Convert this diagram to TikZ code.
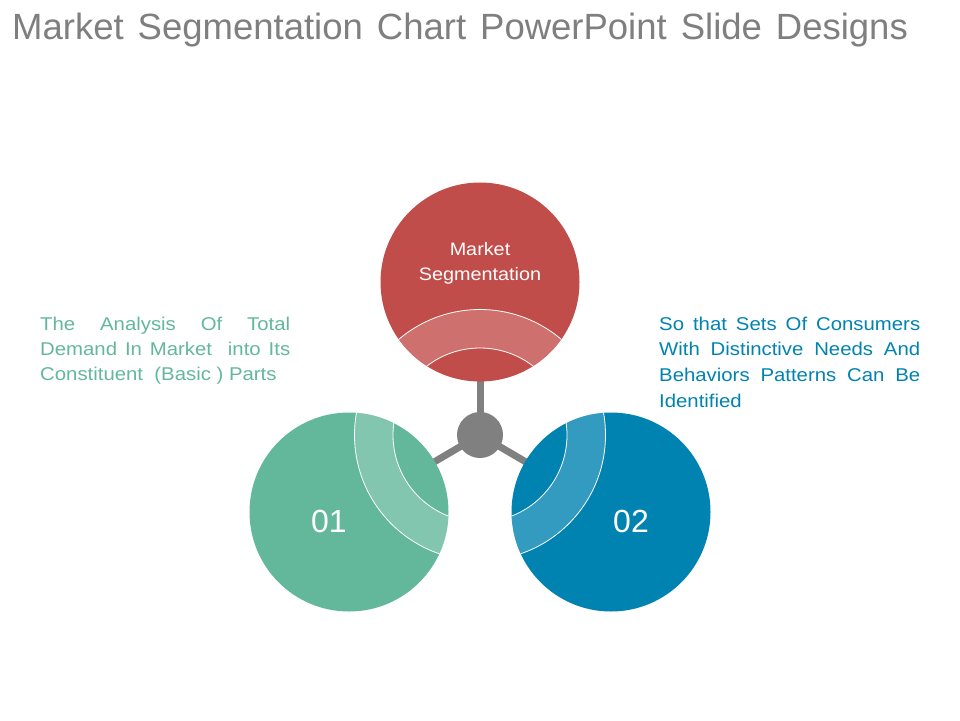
\documentclass[tikz,border=0pt]{standalone}
\usepackage{fontspec}
\setmainfont{Liberation Sans}
\newfontfamily\bodyfont[FakeStretch=1.1]{Liberation Sans}
\usetikzlibrary{backgrounds}

\definecolor{segred}{HTML}{C14D4A}
\definecolor{seggreen}{HTML}{63B89C}
\definecolor{segblue}{HTML}{0083B1}
\definecolor{hubgray}{HTML}{808080}
\definecolor{titlegray}{HTML}{7F7F7F}

\begin{document}
\begin{tikzpicture}[x=1pt, y=-1pt,
  disc/.style={circle, minimum size=199pt, inner sep=0pt},
  spoke/.style={draw=hubgray, line width=7pt},
  band/.style={fill=white, fill opacity=0.2},
  rim/.style={draw=white, line width=0.8pt},
  blurb/.style={anchor=base west, inner sep=0pt, align=justify}]

\useasboundingbox (0,0) rectangle (960,720);

\node[anchor=base west, inner sep=0pt, text=titlegray,
      font=\fontsize{36.5}{40}\selectfont] (T) at (12,39)
      {\spaceskip=14pt\relax Market Segmentation Chart PowerPoint Slide Designs};

\node[disc, fill=segred] (M) at (480,282) {};
\node[disc, fill=seggreen] (A) at (349,512) {};
\node[disc, fill=segblue] (B) at (611,512) {};
\node[circle, fill=hubgray, minimum size=46pt, inner sep=0pt] (H) at (480,435) {};

\begin{pgfonlayer}{background}
\fill[white] (0,0) rectangle (960,720);
\path[spoke] (H.center) edge (M.center)
                        edge (A.center)
                        edge (B.center);
\end{pgfonlayer}

% light band round the hub
\begin{scope}
\clip (M.center) circle (99.5pt) (A.center) circle (99.5pt) (B.center) circle (99.5pt);
\fill[band, even odd rule] (H.center) circle (125.5pt) circle (87pt);
\draw[rim] (H.center) circle (125.5pt) circle (87pt);
\end{scope}

\node[anchor=base, inner sep=0pt, text width=170pt, align=center, text=white,
      font=\bodyfont\fontsize{18}{25}\selectfont] (MT) at (480,255) {Market\\Segmentation};
\node[anchor=base, inner sep=0pt, text=white, font=\fontsize{32}{36}\selectfont] (AT) at (329,532) {01};
\node[anchor=base, inner sep=0pt, text=white, font=\fontsize{32}{36}\selectfont] (BT) at (631,532) {02};

\node[blurb, text=seggreen, text width=250pt, font=\bodyfont\fontsize{18.5}{25}\selectfont] (AL) at (40,330)
  {The Analysis Of Total\linebreak Demand In Market\ \ into Its\linebreak Constituent\ \ (Basic ) Parts};
\node[blurb, text=segblue, text width=261pt, font=\bodyfont\fontsize{18.5}{25.7}\selectfont] (BL) at (659,330)
  {So that Sets Of Consumers\linebreak With Distinctive Needs And\linebreak Behaviors Patterns Can Be\linebreak Identified};

\end{tikzpicture}
\end{document}
